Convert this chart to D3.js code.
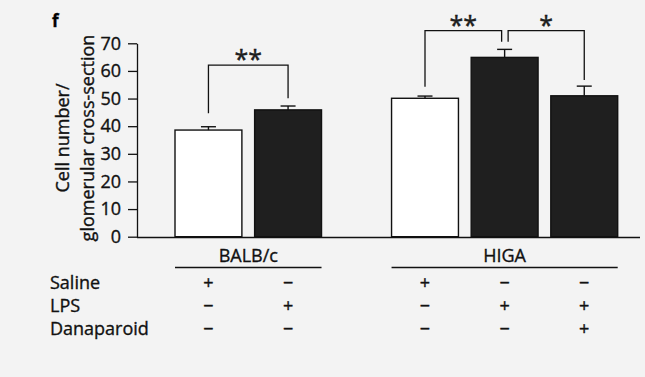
<!DOCTYPE html>
<html>
<head>
<meta charset="utf-8">
<script src="https://cdn.jsdelivr.net/npm/d3@7/dist/d3.min.js"></script>
<style>
  body { margin: 0; background: #f3f3f3; }
  svg { display: block; font-family: "Open Sans", sans-serif; }
  svg text { stroke: #111; stroke-width: 0.35px; }
</style>
</head>
<body>
<div id="chart"></div>
<script>
// groups and bars
const groups = ["BALB/c", "HIGA"];
const barIds = ["b1", "b2", "h1", "h2", "h3"];
const barGroup = ["BALB/c", "BALB/c", "HIGA", "HIGA", "HIGA"];
const means = [38.6, 45.9, 50.1, 64.9, 51.0];
const errors = [1.2, 1.4, 0.8, 2.9, 3.5];
const lps = [false, true, false, true, true];

// treatment table
const rowLabels = ["Saline", "LPS", "Danaparoid"];
const saline = ["+", "\u2212", "+", "\u2212", "\u2212"];
const lpsMarks = ["\u2212", "+", "\u2212", "+", "+"];
const danaparoid = ["\u2212", "\u2212", "\u2212", "\u2212", "+"];

const yTicks = [0, 10, 20, 30, 40, 50, 60, 70];

// significance brackets (bar index from/to, label, level and leg ends in data units)
const sigFrom = [0, 2, 3];
const sigTo = [1, 3, 4];
const sigLabel = ["**", "**", "*"];
const sigLevel = [62.1, 74.6, 74.6];
const sigLeftEnd = [44.7, 54.3, 70.6];
const sigRightEnd = [50.1, 70.6, 56.7];

const width = 645, height = 377;
const groupGap = 57.3;

const svg = d3.select("#chart").append("svg")
  .attr("width", width)
  .attr("height", height);

const y = d3.scaleLinear().domain([0, 70]).range([236.7, 43.3]);

const x = d3.scaleBand()
  .domain(barIds)
  .range([175, 560.4])
  .paddingInner(0.16);

const barX = i => x(barIds[i]) + (barGroup[i] === "HIGA" ? groupGap : 0);
const barC = i => barX(i) + x.bandwidth() / 2;

// panel letter
svg.append("text")
  .attr("x", 52).attr("y", 26.5)
  .attr("font-weight", "bold")
  .attr("font-size", 17)
  .text("f");

// y axis
const yAxis = svg.append("g")
  .attr("transform", "translate(137,0)")
  .call(d3.axisLeft(y).tickValues(yTicks).tickSize(9).tickSizeOuter(0).tickPadding(7));
yAxis.selectAll("text").attr("font-size", 18).attr("font-family", "Open Sans").attr("fill", "#111");
yAxis.selectAll("line").attr("stroke", "#111").attr("stroke-width", 1.3);
yAxis.select(".domain").attr("stroke", "#111").attr("stroke-width", 1.3);

// y title
const ytitle = svg.append("text")
  .attr("transform", "translate(0,138) rotate(-90)")
  .attr("text-anchor", "middle")
  .attr("font-size", 18)
  .attr("fill", "#111");
ytitle.append("tspan").attr("x", 0).attr("y", 69).text("Cell number/");
ytitle.append("tspan").attr("x", 0).attr("y", 94).text("glomerular cross-section");

// bars
const data = barIds.map((id, i) => ({ i, mean: means[i], err: errors[i], lps: lps[i] }));

svg.selectAll("rect.bar")
  .data(data)
  .enter()
  .append("rect")
  .attr("class", "bar")
  .attr("x", d => barX(d.i))
  .attr("y", d => y(d.mean))
  .attr("width", x.bandwidth())
  .attr("height", d => y(0) - y(d.mean))
  .attr("fill", d => d.lps ? "#1f1f1f" : "#ffffff")
  .attr("stroke", "#111")
  .attr("stroke-width", 1.4);

// error bars
const eb = svg.selectAll("g.err").data(data).enter().append("g").attr("class", "err");
eb.append("line")
  .attr("x1", d => barC(d.i)).attr("x2", d => barC(d.i))
  .attr("y1", d => y(d.mean)).attr("y2", d => y(d.mean + d.err))
  .attr("stroke", "#111").attr("stroke-width", 1.4);
eb.append("line")
  .attr("x1", d => barC(d.i) - 7.5).attr("x2", d => barC(d.i) + 7.5)
  .attr("y1", d => y(d.mean + d.err)).attr("y2", d => y(d.mean + d.err))
  .attr("stroke", "#111").attr("stroke-width", 1.4);

// x baseline
svg.append("line")
  .attr("x1", 137).attr("x2", 640)
  .attr("y1", y(0) + 0.8).attr("y2", y(0) + 0.8)
  .attr("stroke", "#111").attr("stroke-width", 1.4);

// significance brackets
sigLabel.forEach((lab, k) => {
  let x1 = barC(sigFrom[k]), x2 = barC(sigTo[k]);
  if (k === 1) x2 -= 3;
  if (k === 2) x1 += 3.5;
  svg.append("path")
    .attr("d", `M${x1},${y(sigLeftEnd[k])}V${y(sigLevel[k])}H${x2}V${y(sigRightEnd[k])}`)
    .attr("fill", "none")
    .attr("stroke", "#111")
    .attr("stroke-width", 1.3);
  svg.append("text")
    .attr("x", (x1 + x2) / 2)
    .attr("y", y(sigLevel[k]) + 3)
    .attr("text-anchor", "middle")
    .attr("font-size", 25)
    .attr("fill", "#222")
    .text(lab);
});

// group labels with underline
groups.forEach(g => {
  const idx = barGroup.map((v, i) => v === g ? i : -1).filter(i => i >= 0);
  const left = barX(idx[0]);
  const right = barX(idx[idx.length - 1]) + x.bandwidth();
  svg.append("text")
    .attr("x", (left + right) / 2)
    .attr("y", 261.5)
    .attr("text-anchor", "middle")
    .attr("font-size", 18)
    .attr("fill", "#111")
    .text(g);
  svg.append("line")
    .attr("x1", left).attr("x2", right)
    .attr("y1", 267.5).attr("y2", 267.5)
    .attr("stroke", "#111").attr("stroke-width", 1.4);
});

// treatment table
const rows = [saline, lpsMarks, danaparoid];
rowLabels.forEach((lab, r) => {
  const yy = 288.5 + r * 23.3;
  svg.append("text")
    .attr("x", 50).attr("y", yy)
    .attr("font-size", 18)
    .attr("fill", "#111")
    .text(lab);
  svg.selectAll(null)
    .data(rows[r])
    .enter()
    .append("text")
    .attr("x", (d, i) => barC(i))
    .attr("y", yy)
    .attr("text-anchor", "middle")
    .attr("font-size", 18)
    .attr("fill", "#111")
    .text(d => d);
});
</script>
</body>
</html>
